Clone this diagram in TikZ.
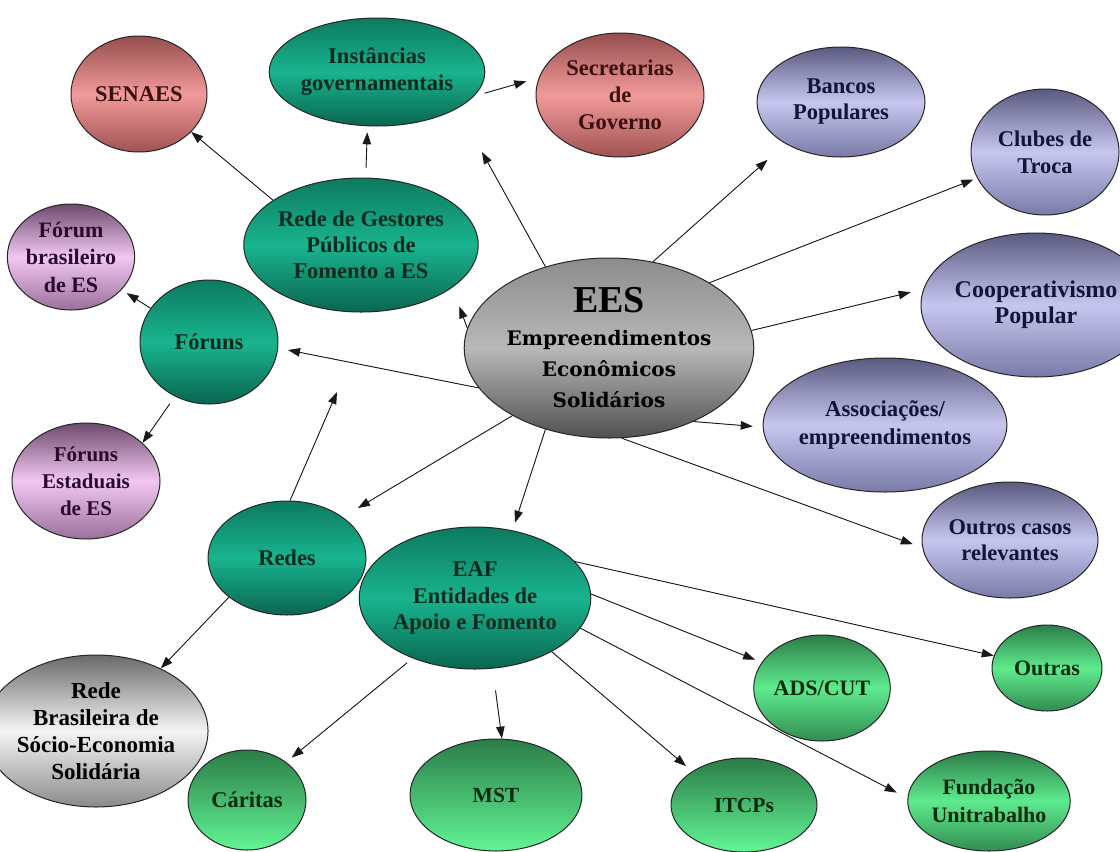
\documentclass[tikz,border=0pt]{standalone}
\usepackage{fontspec}
\setmainfont{Liberation Serif}
\newfontfamily\eesfont{DejaVu Serif}
\usetikzlibrary{shapes.geometric,arrows.meta}
\definecolor{txteal}{HTML}{0A2A20}
\definecolor{txred}{HTML}{3A1010}
\definecolor{txblue}{HTML}{14143A}
\definecolor{txgreen}{HTML}{0A2A10}
\definecolor{txpink}{HTML}{2A0A2A}
\begin{document}
\begin{tikzpicture}[x=1pt,y=-1pt,
  bub/.style={ellipse, draw=black!85, line width=1pt, inner sep=0pt, align=center,
    font=\bfseries\fontsize{22.5}{27}\selectfont},
  sz/.style 2 args={minimum width=#1pt, minimum height=#2pt},
  fillred/.style={top color={rgb,255:red,150;green,78;blue,78}, bottom color={rgb,255:red,160;green,82;blue,82}, middle color={rgb,255:red,242;green,154;blue,154}, text=txred},
  fillteal/.style={top color={rgb,255:red,13;green,122;blue,96}, bottom color={rgb,255:red,10;green,102;blue,80}, middle color={rgb,255:red,25;green,180;blue,142}, text=txteal},
  fillgreenA/.style={top color={rgb,255:red,43;green,125;blue,71}, bottom color={rgb,255:red,98;green,245;blue,149}, text=txgreen},
  fillgreenB/.style={top color={rgb,255:red,43;green,125;blue,71}, bottom color={rgb,255:red,50;green,140;blue,80}, middle color={rgb,255:red,94;green,235;blue,142}, text=txgreen},
  fillblue/.style={top color={rgb,255:red,90;green,90;blue,128}, bottom color={rgb,255:red,122;green,122;blue,168}, middle color={rgb,255:red,198;green,198;blue,240}, text=txblue},
  fillpink/.style={top color={rgb,255:red,110;green,74;blue,110}, bottom color={rgb,255:red,154;green,112;blue,154}, middle color={rgb,255:red,242;green,200;blue,242}, text=txpink},
  fillees/.style={top color={rgb,255:red,140;green,140;blue,140}, bottom color={rgb,255:red,80;green,80;blue,80}, middle color={rgb,255:red,184;green,184;blue,184}, text=black},
  fillgray/.style={top color={rgb,255:red,106;green,106;blue,106}, bottom color={rgb,255:red,138;green,138;blue,138}, middle color={rgb,255:red,244;green,244;blue,244}, text=black},
  conn/.style={-{Triangle[length=12pt,width=8.5pt]}, line width=0.9pt, draw=black!90, fill=black!90}
]
\useasboundingbox (0,0) rectangle (1120,852);
\fill[white] (0,0) rectangle (1120,852);

% nodes
\node[bub, fillred, sz={136}{116}] (se) at (139,94) {SENAES};
\node[bub, fillteal, sz={166}{108}] (in) at (377,72) {Instâncias\\governamentais};
\node[bub, fillred, sz={168}{124}] (sec) at (620,95) {Secretarias\\de\\Governo};
\node[bub, fillteal, sz={212}{134}, font=\bfseries\fontsize{22.5}{26}\selectfont] (rg) at (361,245) {Rede de Gestores\\Públicos de\\Fomento a ES};
\node[bub, fillpink, sz={118}{106}, font=\bfseries\fontsize{22}{27.5}\selectfont] (fb) at (71,257) {Fórum\\brasileiro\\de ES};
\node[bub, fillteal, sz={138}{124}] (fo) at (209,342) {Fóruns};
\node[bub, fillpink, sz={148}{116}, font=\bfseries\fontsize{21}{27}\selectfont] (fe) at (86,481) {Fóruns\\Estaduais\\de ES};
\node[bub, fillteal, sz={158}{114}] (re) at (287,558) {Redes};
\node[bub, fillteal, sz={190}{142}, font=\bfseries\fontsize{22.5}{26.5}\selectfont] (eaf) at (475,598) {EAF\\Entidades de\\Apoio e Fomento};
\node[bub, fillgray, sz={168}{152}, font=\bfseries\fontsize{23}{27}\selectfont] (rb) at (96,731) {Rede\\Brasileira de\\Sócio-Economia\\Solidária};
\node[bub, fillgreenA, sz={118}{100}] (ca) at (247,800) {Cáritas};
\node[bub, fillgreenA, sz={172}{112}, font=\bfseries\fontsize{21.5}{27}\selectfont] (mst) at (496,795) {MST};
\node[bub, fillgreenA, sz={146}{94}, font=\bfseries\fontsize{21.5}{27}\selectfont] (itc) at (744,805) {ITCPs};
\node[bub, fillgreenB, sz={148}{100}, font=\bfseries\fontsize{22}{28}\selectfont] (fun) at (989,801) {Fundação\\Unitrabalho};
\node[bub, fillgreenB, sz={110}{106}, font=\bfseries\fontsize{22}{27}\selectfont] (ads) at (822,688) {ADS/CUT};
\node[bub, fillgreenB, sz={110}{86}, font=\bfseries\fontsize{22}{27}\selectfont] (out) at (1047,668) {Outras};
\node[bub, fillblue, sz={168}{110}, font=\bfseries\fontsize{22.5}{26}\selectfont] (ban) at (841,102) {Bancos\\Populares};
\node[bub, fillblue, sz={148}{126}] (clu) at (1045,152) {Clubes de\\Troca};
\node[bub, fillblue, sz={168}{144}, font=\bfseries\fontsize{24}{26}\selectfont] (coo) at (1036,305) {Cooperativismo\\Popular};
\node[bub, fillblue, sz={196}{134}, font=\bfseries\fontsize{22.7}{28}\selectfont] (ass) at (885,425) {Associações/\\empreendimentos};
\node[bub, fillblue, sz={176}{116}, font=\bfseries\fontsize{22.5}{26}\selectfont] (oc) at (1010,540) {Outros casos\\relevantes};
\node[bub, fillees, sz={224}{180}, font=\eesfont\bfseries\fontsize{20}{31}\selectfont] (ees) at (609,348)
  {{\rmfamily\bfseries\fontsize{38}{38}\selectfont EES}\\[2pt]
   Empreendimentos\\Econômicos\\Solidários};

% free ends
\coordinate (p4) at (482,152);
\coordinate (p7) at (358,508);
\coordinate (p16) at (337,392);

% connectors
\draw[conn] (rg.153) -- (se.-36);
\draw[conn, shorten <=10pt, shorten >=6pt] (rg.86) -- (in.260);
\draw[conn, shorten <=11pt, shorten >=13pt] (in.-14) -- (sec.168);
\draw[conn] (ees.128) -- (p4);
\draw[conn, shorten >=20pt] (ees.172) -- (rg.-25);
\draw[conn, shorten >=10pt] (ees.197) -- (fo.-5);
\draw[conn] (ees.215) -- (p7);
\draw[conn, shorten >=8pt] (ees.232) -- (eaf.61);
\draw[conn, shorten >=24pt] (ees.63) -- (ban.217);
\draw[conn, shorten >=4pt] (ees.33) -- (clu.201);
\draw[conn, shorten >=13pt] (ees.7) -- (coo.172);
\draw[conn, shorten >=10pt] (ees.-41) -- (ass.181);
\draw[conn, shorten >=10pt] (ees.-82) -- (oc.185);
\draw[conn, shorten >=6pt] (fo.150) -- (fb.-33);
\draw[conn, shorten <=9pt] (fo.238) -- (fe.34);
\draw[conn] (re.87) -- (p16);
\draw[conn] (re.214) -- (rb.44);
\draw[conn, shorten <=7pt, shorten >=7pt] (eaf.224) -- (ca.44);
\draw[conn, shorten <=22pt] (eaf.-76) -- (mst.84);
\draw[conn, shorten >=8pt] (eaf.-35) -- (itc.147);
\draw[conn, shorten >=12pt] (eaf.-16) -- (fun.178);
\draw[conn, shorten >=7pt] (eaf.2) -- (ads.157);
\draw[conn] (eaf.20) -- (out.167);
\end{tikzpicture}
\end{document}
